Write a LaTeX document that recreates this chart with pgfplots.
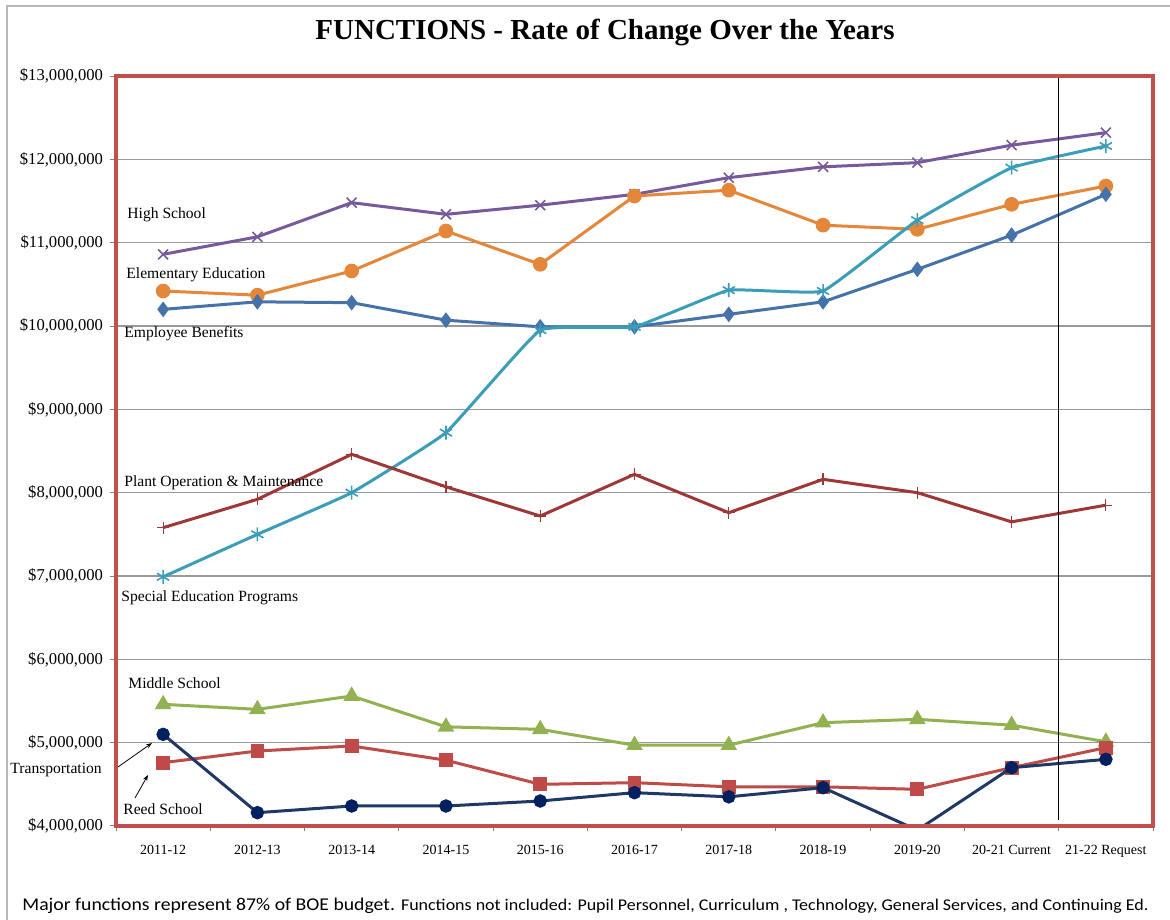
\documentclass[border=0pt]{standalone}
\usepackage{pgfplots}
\pgfplotsset{compat=1.18}
\usepackage{fontspec}
\setmainfont{Liberation Serif}
\newfontfamily\calib{Carlito}
\usetikzlibrary{arrows.meta}
\definecolor{hs}{RGB}{118,90,155}
\definecolor{elem}{RGB}{228,135,58}
\definecolor{emp}{RGB}{69,114,168}
\definecolor{sped}{RGB}{59,157,183}
\definecolor{plant}{RGB}{157,56,55}
\definecolor{mid}{RGB}{146,177,80}
\definecolor{trans}{RGB}{190,75,72}
\definecolor{reed}{RGB}{31,56,100}
\definecolor{reedm}{RGB}{0,32,96}
\definecolor{frame}{RGB}{192,80,77}
\begin{document}
\begin{tikzpicture}[x=1pt,y=1pt]
\useasboundingbox (0,0) rectangle (585,459.5);
\draw[gray!55, line width=1pt] (3.5,-5) -- (3.5,456.5) -- (590,456.5);
\node[font=\fontsize{14.5}{17}\selectfont\bfseries] at (302.5,443) {FUNCTIONS - Rate of Change Over the Years};
\begin{axis}[
  at={(58pt,46.5pt)}, anchor=south west,
  scale only axis, width=518.5pt, height=375pt,
  xmin=-0.5, xmax=10.5, ymin=4, ymax=13,
  xtick={0,...,10},
  xticklabels={2011-12,2012-13,2013-14,2014-15,2015-16,2016-17,2017-18,2018-19,2019-20,20-21 Current,21-22 Request},
  minor xtick={-0.5,0.5,...,10.5},
  ytick={4,...,13},
  yticklabels={{\$4,000,000},{\$5,000,000},{\$6,000,000},{\$7,000,000},{\$8,000,000},{\$9,000,000},{\$10,000,000},{\$11,000,000},{\$12,000,000},{\$13,000,000}},
  ymajorgrids, grid style={gray!80, line width=0.7pt},
  axis line style={draw=none},
  tick align=outside, xtick pos=bottom, ytick pos=left,
  major tick length=3pt, minor tick length=2.5pt,
  major x tick style={draw=none},
  minor x tick style={gray, line width=0.5pt},
  major y tick style={gray, line width=0.5pt},
  x tick label style={font=\fontsize{7}{8}\selectfont, yshift=-3pt},
  y tick label style={font=\fontsize{8.3}{9}\selectfont},
  clip marker paths=true,
  every axis plot/.append style={line width=1.5pt},
]
% High School
\addplot[hs, mark=x, mark size=3.5pt, mark options={line width=0.8pt}] coordinates {
(0,10.86) (1,11.07) (2,11.48) (3,11.34) (4,11.45) (5,11.58) (6,11.78) (7,11.91) (8,11.96) (9,12.17) (10,12.32)};
% Elementary
\addplot[elem, mark=*, mark size=2.9pt] coordinates {
(0,10.42) (1,10.37) (2,10.66) (3,11.14) (4,10.74) (5,11.56) (6,11.63) (7,11.21) (8,11.16) (9,11.46) (10,11.68)};
% Employee Benefits
\addplot[emp, mark=diamond*, mark size=2.7pt] coordinates {
(0,10.20) (1,10.29) (2,10.28) (3,10.07) (4,9.99) (5,9.99) (6,10.14) (7,10.29) (8,10.68) (9,11.09) (10,11.58)};
% Special Education
\addplot[sped, smooth, tension=0.18, mark=asterisk, mark size=3.5pt, mark options={line width=0.8pt}] coordinates {
(0,6.99) (1,7.50) (2,8.00) (3,8.72) (4,9.95) (5,9.99) (6,10.43) (7,10.42) (8,11.27) (9,11.90) (10,12.16)};
% Plant Operation
\addplot[plant, mark=+, mark size=3pt, mark options={line width=0.6pt}] coordinates {
(0,7.58) (1,7.92) (2,8.46) (3,8.07) (4,7.72) (5,8.22) (6,7.76) (7,8.16) (8,8.00) (9,7.65) (10,7.85)};
% Middle School
\addplot[mid, mark=triangle*, mark size=3.3pt] coordinates {
(0,5.46) (1,5.40) (2,5.56) (3,5.19) (4,5.16) (5,4.97) (6,4.97) (7,5.24) (8,5.28) (9,5.21) (10,5.01)};
% Transportation (squares)
\addplot[trans, mark=square*, mark size=2.7pt] coordinates {
(0,4.76) (1,4.90) (2,4.96) (3,4.79) (4,4.50) (5,4.52) (6,4.47) (7,4.47) (8,4.44) (9,4.70) (10,4.94)};
% Reed School (navy circles)
\addplot[reed, mark=*, mark size=2.6pt, mark options={fill=reedm, draw=reedm}] coordinates {
(0,5.10) (1,4.16) (2,4.24) (3,4.24) (4,4.30) (5,4.40) (6,4.35) (7,4.46) (8,3.95) (9,4.70) (10,4.80)};
% vertical separator
\addplot[black, line width=0.6pt, mark=none] coordinates {(9.5,13) (9.5,4.07)};
\end{axis}
\draw[frame, line width=1.6pt] (current axis.south west) rectangle (current axis.north east);
\begin{scope}[every node/.style={font=\fontsize{7.8}{9}\selectfont, anchor=west, inner sep=0pt}]
\node at (63.5,352) {High School};
\node at (63,322) {Elementary Education};
\node at (62,292.5) {Employee Benefits};
\node at (62,218) {Plant Operation \& Maintenance};
\node at (60.5,160.5) {Special Education Programs};
\node at (64,118) {Middle School};
\node at (5,74.5) {Transportation};
\node at (61.5,55) {Reed School};
\end{scope}
\draw[-{Stealth[length=3pt]}, line width=0.4pt] (59,76) -- (76,88);
\draw[-{Stealth[length=3pt]}, line width=0.4pt] (67.5,60.5) -- (74,72);
\node[anchor=base west, inner sep=0pt] at (11,4.5) {\resizebox{563pt}{\height}{\calib\fontsize{9}{10}\selectfont Major functions represent 87\% of BOE budget. \fontsize{8.2}{10}\selectfont Functions not included: Pupil Personnel, Curriculum , Technology, General Services, and Continuing Ed.}};
\end{tikzpicture}
\end{document}
